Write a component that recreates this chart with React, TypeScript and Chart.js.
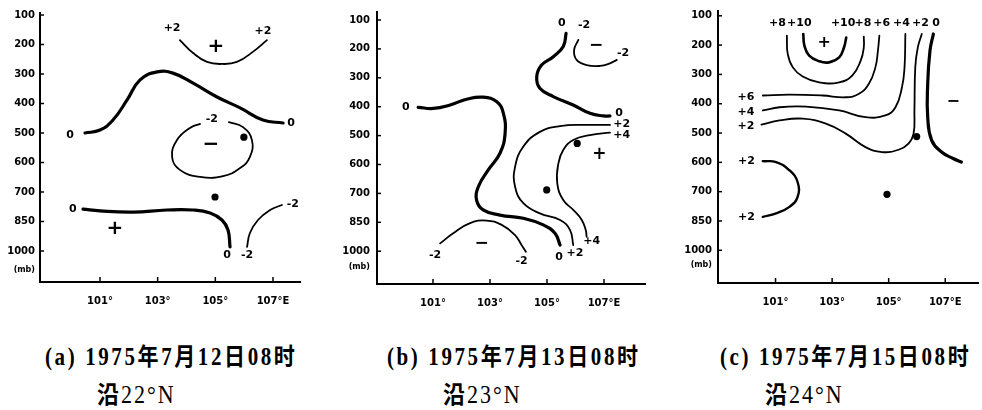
import React, { useEffect, useRef } from 'react';
import { Chart, registerables } from 'chart.js';
Chart.register(...registerables);

type P = [number, number];
type L = [number, number, string];

const levelLabels = ['100', '200', '300', '400', '500', '600', '700', '850', '1000'];
const unitLabel = '(mb)';
const lonTicks = [101, 103, 105, 107];
const lonLabels = ['101°', '103°', '105°', '107°E'];

const captions = ['(a) 1975年7月12日08时', '(b) 1975年7月13日08时', '(c) 1975年7月15日08时'];
const subCaptions = ['沿22°N', '沿23°N', '沿24°N'];

// ---------- Panel (a) : along 22N ----------
const aPlus2: P[] = [[103.77, 0.85], [104.23, 1.29], [104.71, 1.59], [105.23, 1.66], [105.75, 1.59], [106.3, 1.25], [106.79, 0.85]];
const aZeroUpper: P[] = [[100.48, 4.0], [101.0, 3.9], [101.45, 3.56], [101.94, 2.88], [102.39, 2.2], [102.98, 1.93], [103.53, 1.97], [104.23, 2.31], [105.06, 2.78], [105.86, 3.15], [106.65, 3.56], [107.35, 3.66]];
const aMinus2Loop: P[] = [[105.47, 3.63], [105.96, 3.8], [106.27, 4.24], [106.2, 4.81], [105.86, 5.19], [105.27, 5.46], [104.47, 5.49], [103.77, 5.25], [103.5, 4.81], [103.67, 4.24], [104.12, 3.83], [104.47, 3.69]];
const aZeroLower: P[] = [[100.41, 6.58], [101.0, 6.64], [102.14, 6.68], [103.32, 6.61], [104.23, 6.61], [104.82, 6.71], [105.23, 6.95], [105.44, 7.29], [105.51, 7.86]];
const aMinus2Lower: P[] = [[106.1, 7.86], [106.2, 7.39], [106.48, 6.95], [106.9, 6.61], [107.31, 6.44]];
const aDots: P[] = [[105.99, 4.14], [104.99, 6.17]];
const aLabels: L[] = [
  [103.5, 0.44, '+2'], [106.65, 0.54, '+2'], [105.02, 1.08, '+'], [99.96, 4.07, '0'], [107.63, 3.66, '0'],
  [104.88, 3.53, '-2'], [104.85, 4.41, '−'], [100.06, 6.58, '0'], [101.52, 7.25, '+'], [107.69, 6.41, '-2'],
  [105.41, 8.14, '0'], [106.1, 8.14, '-2'],
];

// ---------- Panel (b) : along 23N ----------
const bZeroLong: P[] = [[100.48, 3.02], [101.01, 3.06], [101.6, 2.94], [102.18, 2.74], [102.76, 2.67], [103.24, 2.83], [103.47, 3.23], [103.53, 3.92], [103.35, 4.61], [102.94, 5.19], [102.59, 5.77], [102.53, 6.23], [102.76, 6.57], [103.35, 6.75], [104.17, 6.86], [104.87, 7.09], [105.28, 7.38], [105.46, 7.79]];
const bZeroUpper: P[] = [[105.67, 0.46], [105.57, 0.92], [105.22, 1.27], [104.81, 1.56], [104.64, 1.96], [104.75, 2.36], [105.22, 2.65], [105.92, 2.94], [106.51, 3.23], [106.98, 3.32], [107.21, 3.32]];
const bMinus2Upper: P[] = [[106.1, 0.69], [105.95, 1.04], [106.04, 1.38], [106.39, 1.56], [106.86, 1.59], [107.21, 1.5], [107.45, 1.38]];
const bPlus2: P[] = [[107.21, 3.63], [106.39, 3.63], [105.46, 3.67], [104.75, 3.87], [104.17, 4.38], [103.88, 5.08], [103.88, 5.77], [104.17, 6.34], [104.75, 6.69], [105.46, 6.92], [105.81, 7.27], [105.92, 7.79]];
const bPlus4: P[] = [[107.21, 3.9], [106.51, 3.98], [105.92, 4.15], [105.57, 4.5], [105.4, 4.96], [105.36, 5.65], [105.57, 6.23], [105.92, 6.57], [106.22, 6.92], [106.36, 7.27], [106.39, 7.5]];
const bMinus2Lower: P[] = [[101.25, 7.73], [101.71, 7.38], [102.3, 7.03], [102.88, 6.94], [103.41, 7.09], [103.88, 7.44], [104.11, 7.79], [104.26, 8.02]];
const bDots: P[] = [[106.06, 4.27], [104.99, 5.88]];
const bLabels: L[] = [
  [100.05, 3.01, '0'], [105.52, 0.11, '0'], [106.3, 0.17, '-2'], [106.72, 0.9, '−'], [107.67, 1.14, '-2'],
  [107.53, 3.22, '0'], [107.62, 3.6, '+2'], [107.62, 3.98, '+4'], [106.84, 4.67, '+'], [106.57, 7.64, '+4'],
  [105.98, 8.06, '+2'], [105.42, 8.2, '0'], [101.07, 8.13, '-2'], [102.71, 7.73, '−'], [104.11, 8.36, '-2'],
];

// ---------- Panel (c) : along 24N ----------
const cPlus10: P[] = [[101.98, 0.62], [102.02, 1.02], [102.19, 1.36], [102.54, 1.55], [102.89, 1.59], [103.25, 1.42], [103.42, 1.08], [103.5, 0.74]];
const cPlus8: P[] = [[101.4, 0.68], [101.43, 1.3], [101.61, 1.76], [101.96, 2.07], [102.54, 2.27], [103.25, 2.27], [103.71, 2.04], [104.01, 1.53], [104.12, 1.08], [104.12, 0.71]];
const cPlus6: P[] = [[100.55, 2.72], [101.49, 2.69], [102.66, 2.72], [103.48, 2.78], [103.95, 2.66], [104.3, 2.32], [104.53, 1.76], [104.62, 1.19], [104.67, 0.68]];
const cPlus4: P[] = [[100.55, 3.23], [101.14, 3.12], [102.08, 3.1], [103.25, 3.23], [104.18, 3.46], [104.88, 3.4], [105.24, 3.12], [105.47, 2.44], [105.56, 1.76], [105.59, 0.62]];
const cPlus2Upper: P[] = [[100.5, 3.71], [101.14, 3.57], [101.96, 3.51], [102.78, 3.68], [103.48, 4.02], [104.18, 4.48], [104.76, 4.65], [105.35, 4.57], [105.7, 4.36], [105.88, 4.02], [105.91, 3.23], [105.94, 1.76], [106.03, 1.08], [106.17, 0.62]];
const cZero: P[] = [[106.58, 0.62], [106.46, 1.19], [106.38, 2.32], [106.38, 3.46], [106.52, 4.25], [106.87, 4.65], [107.28, 4.87], [107.57, 4.99]];
const cPlus2Lower: P[] = [[100.55, 4.96], [101.02, 4.99], [101.49, 5.27], [101.78, 5.67], [101.78, 6.18], [101.49, 6.52], [101.02, 6.74], [100.55, 6.86]];
const cDots: P[] = [[105.99, 4.12], [104.94, 6.09]];
const cLabels: L[] = [
  [101.07, 0.26, '+8'], [101.84, 0.26, '+10'], [103.39, 0.26, '+10'], [104.09, 0.26, '+8'], [104.75, 0.26, '+6'],
  [105.45, 0.26, '+4'], [106.12, 0.26, '+2'], [106.68, 0.26, '0'], [102.72, 0.94, '+'],
  [99.95, 2.78, '+6'], [99.95, 3.29, '+4'], [99.95, 3.78, '+2'], [107.28, 2.95, '−'],
  [99.97, 4.97, '+2'], [99.97, 6.86, '+2'],
];

// ---------- layout / style (not data) ----------
const panels = [
  {
    curves: [aPlus2, aZeroUpper, aMinus2Loop, aZeroLower, aMinus2Lower],
    widths: [1.8, 3.2, 1.8, 3.2, 1.8],
    dots: aDots, labels: aLabels,
    box: { left: 0, width: 310, height: 320, yw: 40, top: 13, right: 10, xh: 38, xmin: 98.919, xmax: 107.937, ymin: -0.068, ymax: 9.051, unit: 8.64, sym: 20, ypad: 5 },
  },
  {
    curves: [bZeroLong, bZeroUpper, bMinus2Upper, bPlus2, bPlus4, bMinus2Lower],
    widths: [3.2, 3.2, 1.8, 1.8, 1.8, 1.8],
    dots: bDots, labels: bLabels,
    box: { left: 330, width: 325, height: 320, yw: 47, top: 12, right: 10, xh: 36, xmin: 99.035, xmax: 108.439, ymin: -0.277, ymax: 9.135, unit: 8.55, sym: 17, ypad: 7 },
  },
  {
    curves: [cPlus10, cPlus8, cPlus6, cPlus4, cPlus2Upper, cZero, cPlus2Lower],
    widths: [2.6, 1.8, 1.8, 1.8, 1.8, 3.2, 2.4],
    dots: cDots, labels: cLabels,
    box: { left: 660, width: 322, height: 320, yw: 58, top: 10, right: 2, xh: 37, xmin: 98.965, xmax: 108.158, ymin: -0.17, ymax: 9.116, unit: 8.5, sym: 16, ypad: 6 },
  },
];

const FONT = '"DejaVu Sans", sans-serif';

function Panel({ cfg, idx }: { cfg: any; idx: number }) {
  const ref = useRef<HTMLCanvasElement>(null);
  const b = cfg.box;
  useEffect(() => {
    const datasets: any[] = cfg.curves.map((c: P[], i: number) => ({
      data: c.map(([x, y]) => ({ x, y })),
      showLine: true,
      borderColor: '#000',
      borderWidth: cfg.widths[i],
      pointRadius: 0,
      tension: 0.45,
      fill: false,
      borderCapStyle: 'round',
      borderJoinStyle: 'round',
    }));
    datasets.push({
      data: cfg.dots.map(([x, y]: P) => ({ x, y })),
      showLine: false,
      pointRadius: 3.6,
      pointBackgroundColor: '#000',
      pointBorderColor: '#000',
      pointBorderWidth: 0,
    });

    const labelPlugin = {
      id: 'contourLabels' + idx,
      afterDatasetsDraw(chart: any) {
        const { ctx, scales } = chart;
        ctx.save();
        ctx.fillStyle = '#000';
        ctx.textAlign = 'center';
        ctx.textBaseline = 'middle';
        cfg.labels.forEach(([x, y, t]: L) => {
          const big = t === '+' || t === '−';
          ctx.font = big ? `bold ${b.sym}px ${FONT}` : `bold 11px ${FONT}`;
          ctx.fillText(t, scales.x.getPixelForValue(x), scales.y.getPixelForValue(y));
        });
        ctx.restore();
      },
      afterDraw(chart: any) {
        const { ctx, scales, chartArea: ca } = chart;
        ctx.save();
        ctx.strokeStyle = '#000';
        ctx.lineWidth = 1.5;
        lonTicks.forEach((v) => {
          const px = scales.x.getPixelForValue(v);
          ctx.beginPath();
          ctx.moveTo(px, ca.bottom);
          ctx.lineTo(px, ca.bottom - 5);
          ctx.stroke();
        });
        levelLabels.forEach((_, i) => {
          const py = scales.y.getPixelForValue(i);
          ctx.beginPath();
          ctx.moveTo(ca.left, py);
          ctx.lineTo(ca.left + 4, py);
          ctx.stroke();
        });
        ctx.restore();
      },
    };

    const chart = new Chart(ref.current as HTMLCanvasElement, {
      type: 'scatter',
      data: { datasets },
      options: {
        animation: false,
        responsive: false,
        maintainAspectRatio: false,
        events: [],
        layout: { padding: { top: b.top, right: b.right, left: 0, bottom: 0 } },
        plugins: { legend: { display: false }, tooltip: { enabled: false } },
        scales: {
          x: {
            type: 'linear',
            min: b.xmin,
            max: b.xmax,
            grid: { display: false, drawTicks: false },
            border: { display: true, color: '#000', width: 2 },
            afterBuildTicks: (s: any) => {
              s.ticks = lonTicks.map((v) => ({ value: v }));
            },
            afterFit: (s: any) => {
              s.height = b.xh;
            },
            ticks: {
              autoSkip: false,
              maxRotation: 0,
              padding: 13,
              color: '#000',
              font: { family: FONT, size: 10, weight: 'bold' },
              callback: (v: any) => {
                const i = lonTicks.indexOf(Number(v));
                return i >= 0 ? lonLabels[i] : '';
              },
            },
          },
          y: {
            type: 'linear',
            reverse: true,
            min: b.ymin,
            max: b.ymax,
            grid: { display: false, drawTicks: false },
            border: { display: true, color: '#000', width: 2 },
            afterBuildTicks: (s: any) => {
              s.ticks = levelLabels.map((_, i) => ({ value: i })).concat([{ value: b.unit }]);
            },
            afterFit: (s: any) => {
              s.width = b.yw;
            },
            ticks: {
              autoSkip: false,
              padding: b.ypad,
              color: '#000',
              font: (c: any) =>
                c.tick && !Number.isInteger(c.tick.value)
                  ? { family: FONT, size: 8, weight: 'bold' }
                  : { family: FONT, size: 10, weight: 'bold' },
              callback: (v: any) => (Number.isInteger(Number(v)) ? levelLabels[Number(v)] : unitLabel),
            },
          },
        },
      } as any,
      plugins: [labelPlugin],
    });
    return () => chart.destroy();
  }, []);
  return (
    <canvas
      ref={ref}
      width={b.width}
      height={b.height}
      style={{ position: 'absolute', left: b.left, top: 0, width: b.width, height: b.height }}
    />
  );
}

const captionLeft = [45, 387, 720];
const subLeft = [97, 443, 765];

export default function App() {
  return (
    <div style={{ position: 'absolute', left: 0, top: 0, width: 982, height: 410, background: '#fff', overflow: 'hidden' }}>
      {panels.map((p, i) => (
        <Panel key={i} cfg={p} idx={i} />
      ))}
      {captions.map((c, i) => (
        <div
          key={'c' + i}
          style={{
            position: 'absolute',
            left: captionLeft[i],
            top: 346,
            fontSize: 21,
            lineHeight: '22px',
            fontWeight: 'bold',
            fontFamily: '"Liberation Serif", "Noto Sans CJK SC", serif',
            letterSpacing: '2.6px',
            whiteSpace: 'nowrap',
            transform: 'scaleY(1.15)',
            transformOrigin: 'left center',
            color: '#000',
          }}
        >
          {c}
        </div>
      ))}
      {subCaptions.map((s, i) => (
        <div
          key={'s' + i}
          style={{
            position: 'absolute',
            left: subLeft[i],
            top: 381,
            fontSize: 22,
            lineHeight: '22px',
            fontFamily: '"Liberation Serif", "Noto Sans CJK SC", serif',
            letterSpacing: '2px',
            whiteSpace: 'nowrap',
            transform: 'scaleY(1.1)',
            transformOrigin: 'left center',
            color: '#000',
          }}
        >
          <span style={{ fontWeight: 'bold', fontFamily: '"Noto Sans CJK SC", sans-serif' }}>{s.slice(0, 1)}</span>
          {s.slice(1)}
        </div>
      ))}
    </div>
  );
}
